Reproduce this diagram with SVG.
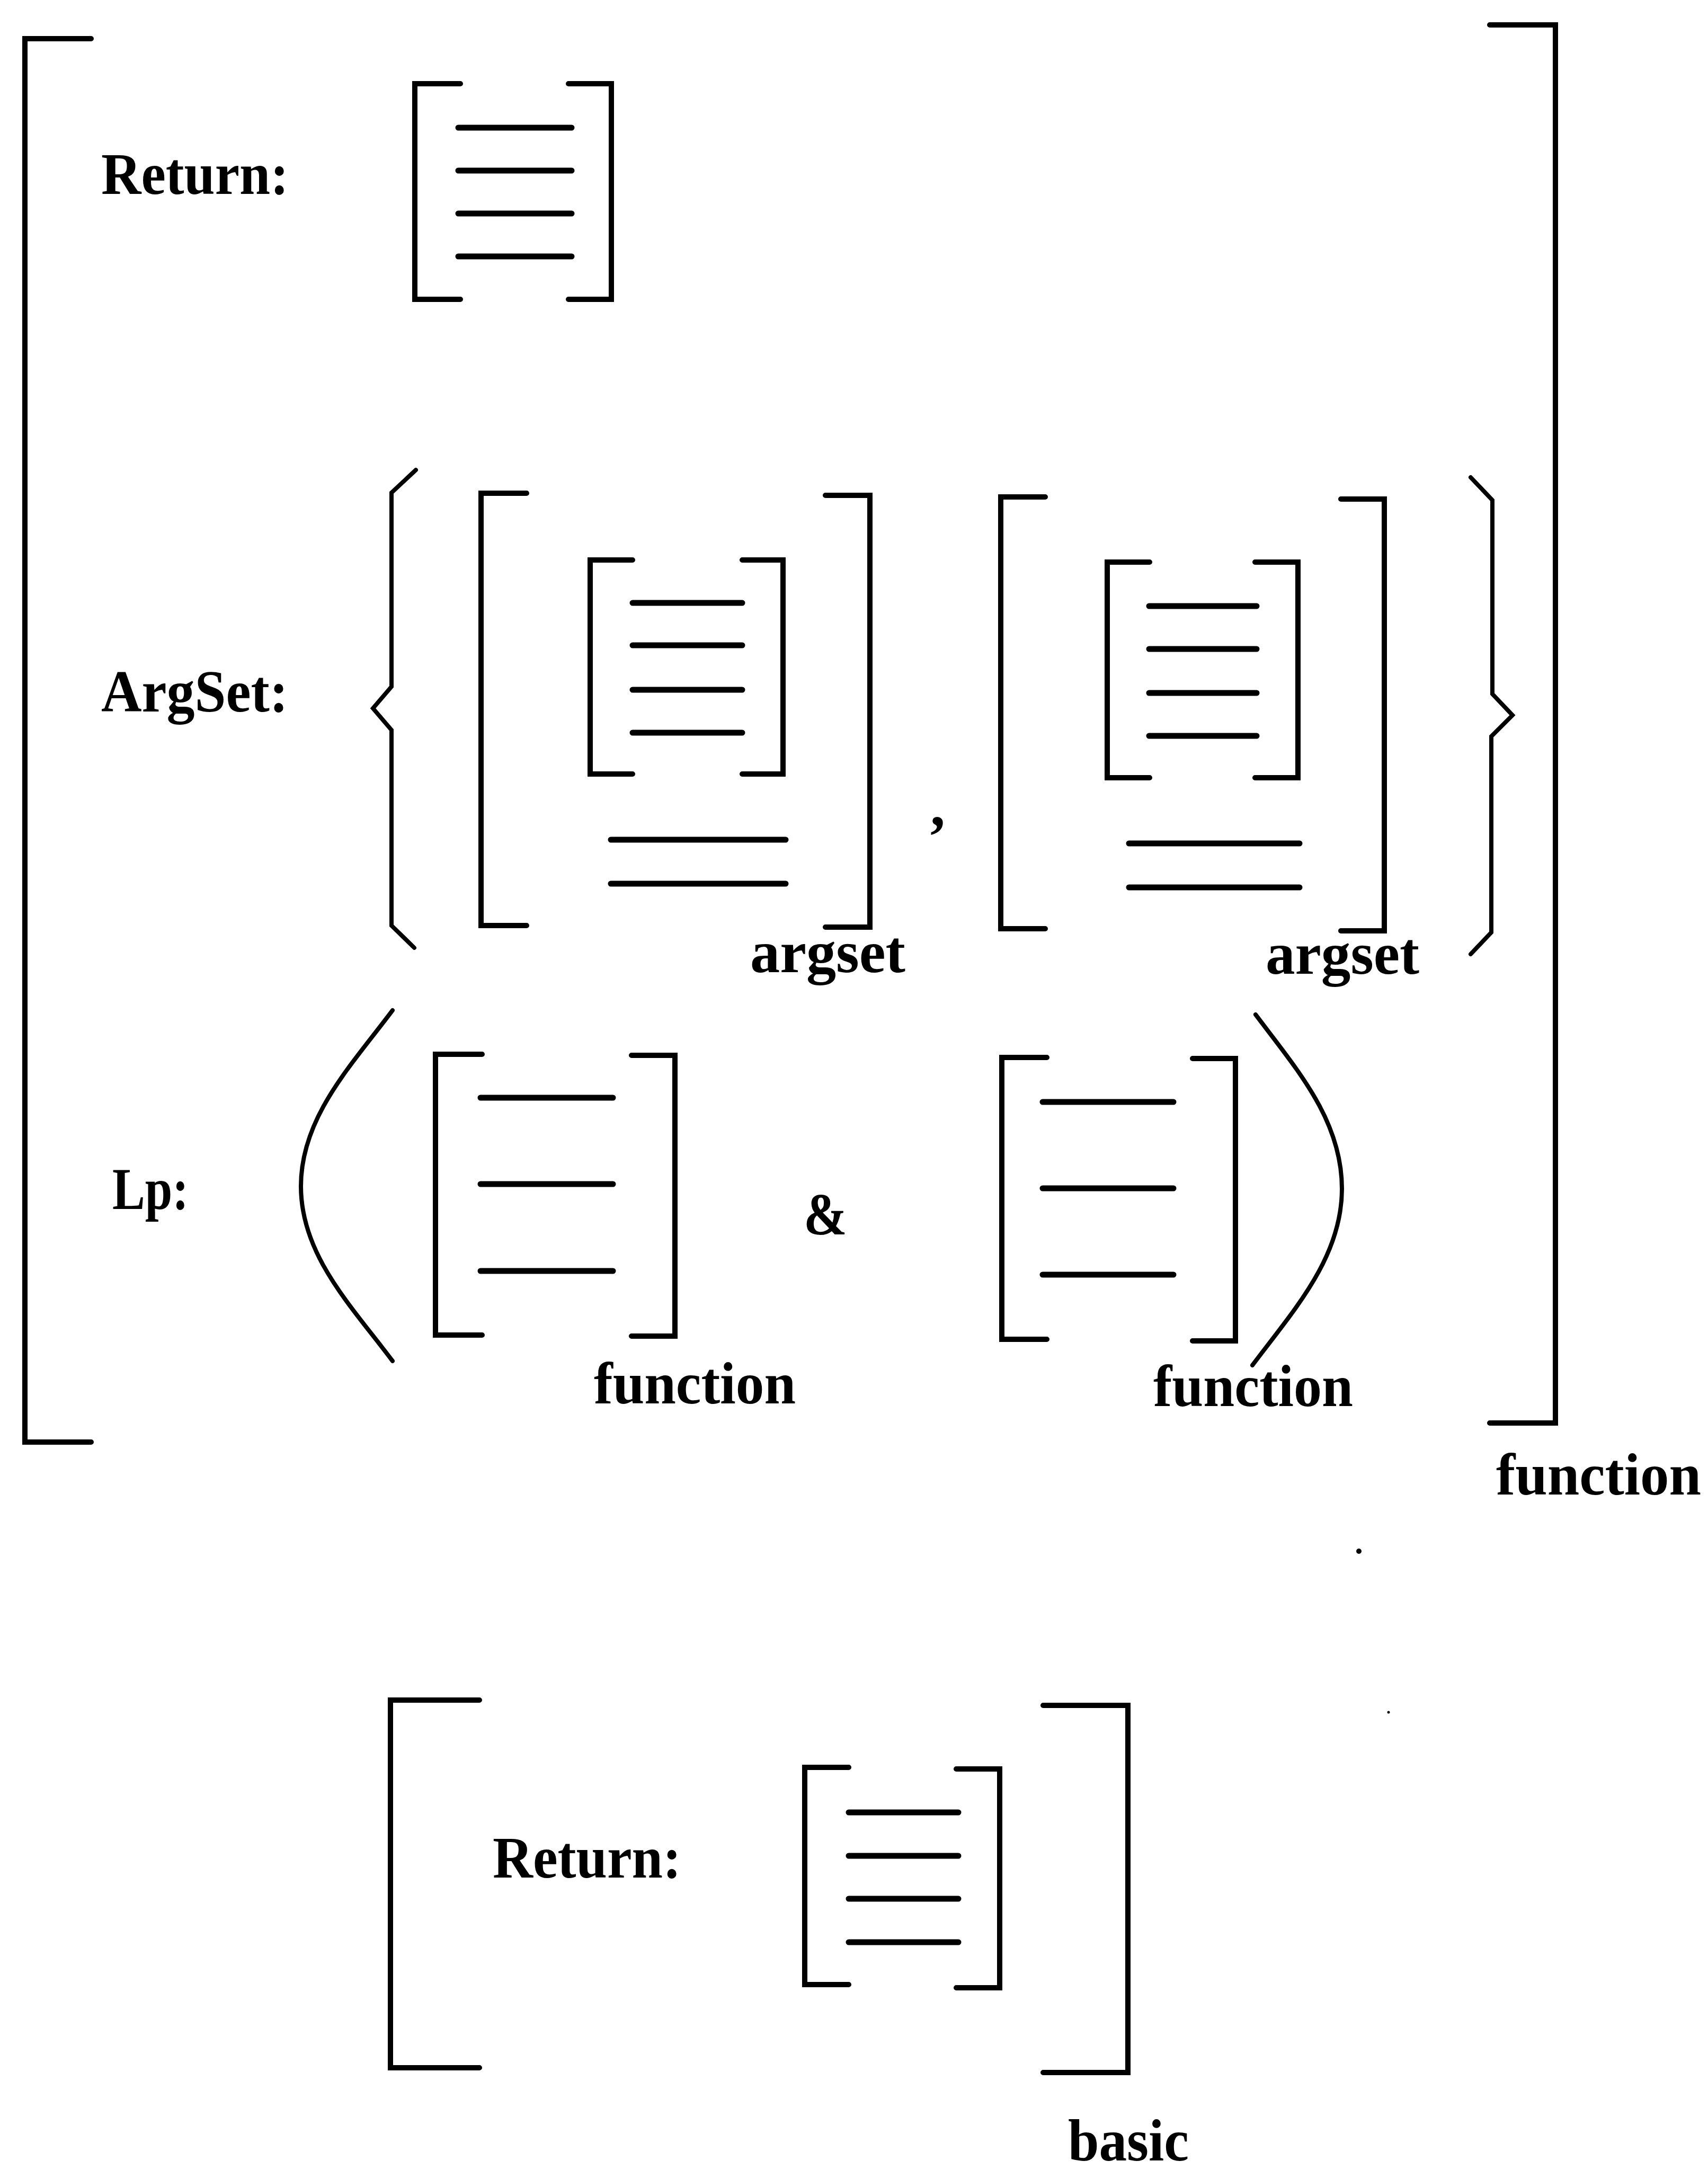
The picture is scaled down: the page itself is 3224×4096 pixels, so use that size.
<svg xmlns="http://www.w3.org/2000/svg" width="3224" height="4096" viewBox="0 0 3224 4096">
  <style>
    .br { fill: none; stroke: #000; stroke-width: 10; stroke-linejoin: miter; stroke-linecap: round; }
    .ln { fill: none; stroke: #000; stroke-width: 11; stroke-linecap: round; }
    .dl { fill: none; stroke: #000; stroke-width: 8; stroke-linejoin: miter; stroke-linecap: round; }
    .tx { font-family: "Liberation Serif", "Times New Roman", serif; font-weight: bold; font-size: 112px; fill: #000; }
  </style>
  <rect width="3224" height="4096" fill="#fff"/>

  <!-- outer "function" structure -->
  <g id="function-outer">
    <path class="br" d="M172,73 H47 V2722 H172"/>
    <path class="br" d="M2812,47 H2936 V2686 H2812"/>
    <text class="tx" x="2824" y="2821" textLength="387" lengthAdjust="spacingAndGlyphs">function</text>
  </g>

  <!-- Return row -->
  <g id="return-row">
    <text class="tx" x="191" y="366" textLength="354" lengthAdjust="spacingAndGlyphs">Return:</text>
    <path class="br" d="M869,158 H783 V565 H869"/>
    <path class="br" d="M1073,158 H1154 V565 H1073"/>
    <path class="ln" d="M865,241 H1079 M865,322 H1079 M865,403 H1079 M865,484 H1079"/>
  </g>

  <!-- ArgSet row -->
  <g id="argset-row">
    <text class="tx" x="191" y="1343" textLength="353" lengthAdjust="spacingAndGlyphs">ArgSet:</text>
    <path class="dl" d="M785,887 L739,930 V1296 L704,1337 L739,1378 V1747 L782,1789"/>
    <path class="dl" d="M2776,901 L2817,944 V1310 L2855,1350 L2815,1390 V1760 L2776,1801"/>
    <text class="tx" x="1756" y="1559">,</text>
  </g>

  <g id="argset-a">
    <path class="br" d="M994,931 H908 V1747 H994"/>
    <path class="br" d="M1558,935 H1642 V1750 H1558"/>
    <path class="br" d="M1194,1057 H1114 V1461 H1194"/>
    <path class="br" d="M1401,1057 H1478 V1461 H1401"/>
    <path class="ln" d="M1194,1138 H1401 M1194,1218 H1401 M1194,1302 H1401 M1194,1383 H1401"/>
    <path class="ln" d="M1153,1585 H1483 M1153,1668 H1483"/>
    <text class="tx" x="1416" y="1835" textLength="293" lengthAdjust="spacingAndGlyphs">argset</text>
  </g>

  <g id="argset-b">
    <path class="br" d="M1973,938 H1889 V1753 H1973"/>
    <path class="br" d="M2531,942 H2613 V1757 H2531"/>
    <path class="br" d="M2170,1061 H2090 V1468 H2170"/>
    <path class="br" d="M2369,1061 H2450 V1468 H2369"/>
    <path class="ln" d="M2169,1144 H2372 M2169,1225 H2372 M2169,1308 H2372 M2169,1389 H2372"/>
    <path class="ln" d="M2131,1592 H2453 M2131,1675 H2453"/>
    <text class="tx" x="2389" y="1838" textLength="290" lengthAdjust="spacingAndGlyphs">argset</text>
  </g>

  <!-- Lp row -->
  <g id="lp-row">
    <text class="tx" x="212" y="2282" textLength="144" lengthAdjust="spacingAndGlyphs">Lp:</text>
    <path class="dl" d="M741,1907 C663,2011 568,2109 568,2239 S663,2465 741,2569"/>
    <path class="dl" d="M2370,1915 C2448,2019 2533,2114 2533,2244 S2442,2473 2364,2577"/>
    <text class="tx" x="1517" y="2330" textLength="82" lengthAdjust="spacingAndGlyphs">&amp;</text>
  </g>

  <g id="lp-function-c">
    <path class="br" d="M910,1990 H822 V2520 H910"/>
    <path class="br" d="M1192,1992 H1274 V2522 H1192"/>
    <path class="ln" d="M907,2072 H1157 M907,2235 H1157 M907,2399 H1157"/>
    <text class="tx" x="1121" y="2649" textLength="381" lengthAdjust="spacingAndGlyphs">function</text>
  </g>

  <g id="lp-function-d">
    <path class="br" d="M1976,1996 H1891 V2528 H1976"/>
    <path class="br" d="M2251,1998 H2332 V2531 H2251"/>
    <path class="ln" d="M1968,2080 H2215 M1968,2243 H2215 M1968,2406 H2215"/>
    <text class="tx" x="2177" y="2654" textLength="377" lengthAdjust="spacingAndGlyphs">function</text>
  </g>

  <!-- stray print specks -->
  <g id="specks">
    <circle cx="2565" cy="2928" r="5"/>
    <circle cx="2621" cy="3232" r="2.5"/>
  </g>

  <!-- "basic" structure -->
  <g id="basic">
    <path class="br" d="M905,3209 H737 V3903 H905"/>
    <path class="br" d="M1969,3219 H2129 V3912 H1969"/>
    <text class="tx" x="930" y="3544" textLength="356" lengthAdjust="spacingAndGlyphs">Return:</text>
    <path class="br" d="M1602,3336 H1519 V3746 H1602"/>
    <path class="br" d="M1805,3339 H1887 V3752 H1805"/>
    <path class="ln" d="M1602,3421 H1809 M1602,3503 H1809 M1602,3584 H1809 M1602,3666 H1809"/>
    <text class="tx" x="2016" y="4078" textLength="228" lengthAdjust="spacingAndGlyphs">basic</text>
  </g>

  <g id="connectors"/>
</svg>
